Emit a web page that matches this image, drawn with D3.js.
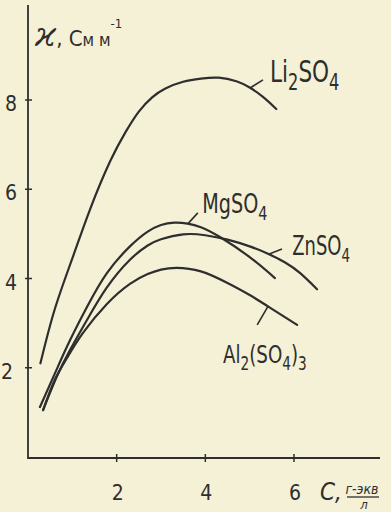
<!DOCTYPE html>
<html>
<head>
<meta charset="utf-8">
<script src="https://cdn.jsdelivr.net/npm/d3@7"></script>
<style>
  body { margin: 0; background: #f5f1d6; }
  svg { display: block; }
  .hand { font-family: "Liberation Sans Narrow", "DejaVu Sans Condensed", sans-serif; fill: #2e2e2e; }
</style>
</head>
<body>
<div id="chart"></div>
<script>
// concentration C, g-eq/l  vs  conductivity, S/m
const li2so4 = [[0.28, 2.1], [0.6, 3.3], [1.0, 4.45], [1.4, 5.55], [1.85, 6.62], [2.2, 7.28],
                [2.5, 7.74], [2.8, 8.06], [3.1, 8.26], [3.5, 8.41], [3.9, 8.48], [4.3, 8.5],
                [4.7, 8.42], [5.0, 8.28], [5.3, 8.07], [5.6, 7.8]]
const mgso4 = [[0.27, 1.12], [0.65, 1.97], [0.95, 2.62], [1.33, 3.36], [1.78, 4.12], [2.3, 4.72],
               [2.7, 5.05], [3.0, 5.2], [3.3, 5.25], [3.6, 5.23], [3.9, 5.15], [4.33, 4.93],
               [5.0, 4.48], [5.57, 4.01]]
const znso4 = [[0.34, 1.05], [0.65, 1.8], [0.95, 2.4], [1.33, 3.07], [1.78, 3.8], [2.3, 4.42],
               [2.7, 4.74], [3.0, 4.88], [3.5, 4.99], [4.0, 4.97], [4.5, 4.87], [5.0, 4.72],
               [5.4, 4.56], [5.8, 4.36], [6.14, 4.12], [6.52, 3.76]]
const al2so43 = [[0.34, 1.05], [0.6, 1.72], [0.88, 2.22], [1.24, 2.78], [1.78, 3.43], [2.3, 3.88],
                 [2.7, 4.1], [3.0, 4.2], [3.35, 4.24], [3.9, 4.16], [4.5, 3.9], [5.0, 3.63],
                 [5.5, 3.32], [6.07, 2.96]]
const xTicks = [2, 4, 6]
const yTicks = [2, 4, 6, 8]

const width = 391, height = 512

const svg = d3.select("#chart").append("svg")
    .attr("width", width)
    .attr("height", height)

// scales (origin of the hand drawn axes is at about 28,457)
const x = d3.scaleLinear().domain([0, 6]).range([28, 294])
const y = d3.scaleLinear().domain([0, 8]).range([457, 100])

const ink = "#2e2e2e"

// axes
svg.append("line")
    .attr("x1", x(0)).attr("x2", x(0))
    .attr("y1", 5).attr("y2", y(0) + 2)
    .attr("stroke", ink).attr("stroke-width", 1.8)
svg.append("line")
    .attr("x1", x(0)).attr("x2", 380)
    .attr("y1", y(0) + 1).attr("y2", y(0) + 1)
    .attr("stroke", ink).attr("stroke-width", 1.8)

// ticks
svg.selectAll(".ytick").data(yTicks).enter().append("line")
    .attr("class", "ytick")
    .attr("x1", x(0) - 3).attr("x2", x(0) + 4)
    .attr("y1", d => y(d)).attr("y2", d => y(d))
    .attr("stroke", ink).attr("stroke-width", 1.5)
svg.selectAll(".xtick").data(xTicks).enter().append("line")
    .attr("class", "xtick")
    .attr("x1", d => x(d)).attr("x2", d => x(d))
    .attr("y1", y(0) - 3).attr("y2", y(0) + 5)
    .attr("stroke", ink).attr("stroke-width", 1.5)

svg.selectAll(".ylab").data(yTicks).enter().append("text")
    .attr("class", "hand")
    .attr("x", d => d == 2 ? 7 : 11)
    .attr("y", d => y(d) + 11)
    .attr("text-anchor", "middle")
    .style("font-size", "21px")
    .text(d => d)
svg.selectAll(".xlab").data(xTicks).enter().append("text")
    .attr("class", "hand")
    .attr("x", d => x(d) + 1)
    .attr("y", 500)
    .attr("text-anchor", "middle")
    .style("font-size", "21px")
    .text(d => d)

// axis titles
const yt = svg.append("text").attr("class", "hand").attr("x", 35).attr("y", 46)
yt.append("tspan").style("font-size", "34px").style("font-style", "italic").style("font-family", "DejaVu Serif").text("ϰ")
yt.append("tspan").style("font-size", "22px").text(", ")
yt.append("tspan").style("font-size", "22px").text("С")
yt.append("tspan").style("font-size", "17px").text("м м")
yt.append("tspan").style("font-size", "13px").attr("dy", -18).text("-1")

svg.append("text").attr("class", "hand")
    .attr("x", 320).attr("y", 500)
    .style("font-size", "24px").style("font-style", "italic")
    .text("С,")
svg.append("text").attr("class", "hand")
    .attr("x", 362).attr("y", 494)
    .attr("text-anchor", "middle")
    .style("font-size", "14px").style("font-style", "italic")
    .text("г-экв")
svg.append("line")
    .attr("x1", 347).attr("x2", 379).attr("y1", 497).attr("y2", 497)
    .attr("stroke", ink).attr("stroke-width", 1.3)
svg.append("text").attr("class", "hand")
    .attr("x", 364).attr("y", 509)
    .attr("text-anchor", "middle")
    .style("font-size", "13px").style("font-style", "italic")
    .text("л")

// curves
const line = d3.line()
    .x(d => x(d[0]))
    .y(d => y(d[1]))
    .curve(d3.curveNatural)

const series = [li2so4, mgso4, znso4, al2so43]
svg.selectAll(".curve").data(series).enter().append("path")
    .attr("class", "curve")
    .attr("d", line)
    .attr("fill", "none")
    .attr("stroke", ink)
    .attr("stroke-width", 2.2)
    .attr("stroke-linecap", "round")

// pointers from curves to their names (data units)
const pointers = [
    [[5.01, 8.27], [5.3, 8.45]],
    [[3.61, 5.23], [3.83, 5.47]],
    [[5.44, 4.55], [5.73, 4.66]],
    [[5.41, 3.37], [5.17, 2.96]]
]
svg.selectAll(".ptr").data(pointers).enter().append("line")
    .attr("class", "ptr")
    .attr("x1", d => x(d[0][0])).attr("y1", d => y(d[0][1]))
    .attr("x2", d => x(d[1][0])).attr("y2", d => y(d[1][1]))
    .attr("stroke", ink).attr("stroke-width", 1.6)

// curve names: [text, is subscript] pieces, squeezed to look hand lettered
function chem(px, py, parts, size, sx) {
    const t = svg.append("g")
        .attr("transform", "translate(" + px + "," + py + ") scale(" + sx + ",1)")
        .append("text").attr("class", "hand")
        .style("font-size", size + "px")
    let down = 0
    parts.forEach(p => {
        const sub = p[1]
        const dy = sub ? (down ? 0 : size * 0.28) : (down ? -size * 0.28 : 0)
        down = sub
        t.append("tspan")
            .attr("dy", dy)
            .style("font-size", (sub ? size * 0.75 : size) + "px")
            .text(p[0])
    })
}

chem(x(5.46), y(8.41), [["Li", 0], ["2", 1], ["SO", 0], ["4", 1]], 30, 0.8)
chem(x(3.93), y(5.47), [["Mg", 0], ["SO", 0], ["4", 1]], 27, 0.79)
chem(x(5.96), y(4.53), [["Zn", 0], ["SO", 0], ["4", 1]], 27, 0.74)
chem(x(4.4), y(2.11), [["Al", 0], ["2", 1], ["(SO", 0], ["4", 1], [")", 0], ["3", 1]], 25, 0.81)
</script>
</body>
</html>
